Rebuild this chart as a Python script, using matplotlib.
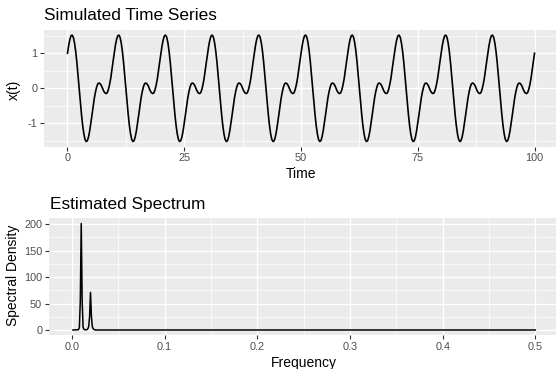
import numpy as np
import matplotlib
matplotlib.use("Agg")
import matplotlib.pyplot as plt
from matplotlib.ticker import FixedLocator

plt.rcParams['font.family'] = ['Liberation Sans', 'DejaVu Sans']
plt.rcParams['axes.unicode_minus'] = False

# one period (t = 0 .. 9.75, step 0.25) of the simulated series
x_period = [1.00, 1.22, 1.39, 1.50, 1.52, 1.46, 1.30, 1.06, 0.75, 0.39,
            0.00, -0.39, -0.75, -1.06, -1.30, -1.46, -1.52, -1.50, -1.39, -1.22,
            -1.00, -0.76, -0.51, -0.28, -0.10, 0.04, 0.13, 0.15, 0.13, 0.08,
            0.00, -0.08, -0.13, -0.15, -0.13, -0.04, 0.10, 0.28, 0.51, 0.76]
n_periods = 10
time = np.linspace(0, 100, len(x_period) * n_periods + 1)
x_values = np.append(np.tile(x_period, n_periods), x_period[0])

# estimated spectrum (mostly zero, two narrow peaks)
freq = [0.001, 0.007, 0.008, 0.009, 0.010, 0.011, 0.012, 0.013, 0.014, 0.015,
        0.016, 0.017, 0.018, 0.019, 0.020, 0.021, 0.022, 0.023, 0.025, 0.5]
dens = [0, 0.5, 5, 55, 201, 55, 5, 1, 0.5, 0.5,
        0.5, 2, 6, 25, 71, 25, 6, 2, 0, 0]

W, H = 556, 369
fig = plt.figure(figsize=(W / 100, H / 100), dpi=100)


def px_axes(left, top, right, bottom):
    return fig.add_axes([left / W, 1 - bottom / H, (right - left) / W, (bottom - top) / H])


def gg_style(ax, xmaj, xmin, ymaj, ymin):
    ax.set_facecolor('#EBEBEB')
    for s in ax.spines.values():
        s.set_visible(False)
    ax.xaxis.set_major_locator(FixedLocator(xmaj))
    ax.xaxis.set_minor_locator(FixedLocator(xmin))
    ax.yaxis.set_major_locator(FixedLocator(ymaj))
    ax.yaxis.set_minor_locator(FixedLocator(ymin))
    ax.grid(which='major', color='white', linewidth=1.0)
    ax.grid(which='minor', color='white', linewidth=0.5)
    ax.set_axisbelow(True)
    ax.tick_params(which='major', length=2.6, width=0.8, color='#333333',
                   labelsize=7.8, labelcolor='#4D4D4D', pad=2.2)
    ax.tick_params(which='minor', length=0)


# ---- time series ----
ax1 = px_axes(44, 30, 556, 146.7)
ax1.plot(time, x_values, color='black', linewidth=1.2)
ax1.set_xlim(-5.03, 104.6)
ax1.set_ylim(-1.669, 1.666)
gg_style(ax1, [0, 25, 50, 75, 100], [12.5, 37.5, 62.5, 87.5],
         [-1, 0, 1], [-1.5, -0.5, 0.5, 1.5])
ax1.set_xticklabels(['0', '25', '50', '75', '100'])
ax1.set_yticklabels(['-1', '0', '1'])

# ---- spectrum ----
ax2 = px_axes(48.8, 218.3, 556, 335.3)
ax2.plot(freq, dens, color='black', linewidth=1.1)
ax2.set_xlim(-0.025, 0.5223)
ax2.set_ylim(-10, 210.8)
gg_style(ax2, [0, 0.1, 0.2, 0.3, 0.4, 0.5], [0.05, 0.15, 0.25, 0.35, 0.45],
         [0, 50, 100, 150, 200], [25, 75, 125, 175])
ax2.set_xticklabels(['0.0', '0.1', '0.2', '0.3', '0.4', '0.5'])
ax2.set_yticklabels(['0', '50', '100', '150', '200'])

# titles and axis labels
fig.text(44 / W, 1 - 20 / H, 'Simulated Time Series', fontsize=12.4, va='baseline', ha='left')
fig.text(49.5 / W, 1 - 209 / H, 'Estimated Spectrum', fontsize=12.4, va='baseline', ha='left')
fig.text(301 / W, 1 - 178.3 / H, 'Time', fontsize=10, va='baseline', ha='center')
fig.text(304 / W, 1 - 366.7 / H, 'Frequency', fontsize=10, va='baseline', ha='center')
fig.text(14 / W, 1 - 90 / H, 'x(t)', fontsize=10, rotation=90, va='center', ha='center')
fig.text(13.5 / W, 1 - 275 / H, 'Spectral Density', fontsize=10, rotation=90, va='center', ha='center')

fig.savefig('out.png', dpi=100)
